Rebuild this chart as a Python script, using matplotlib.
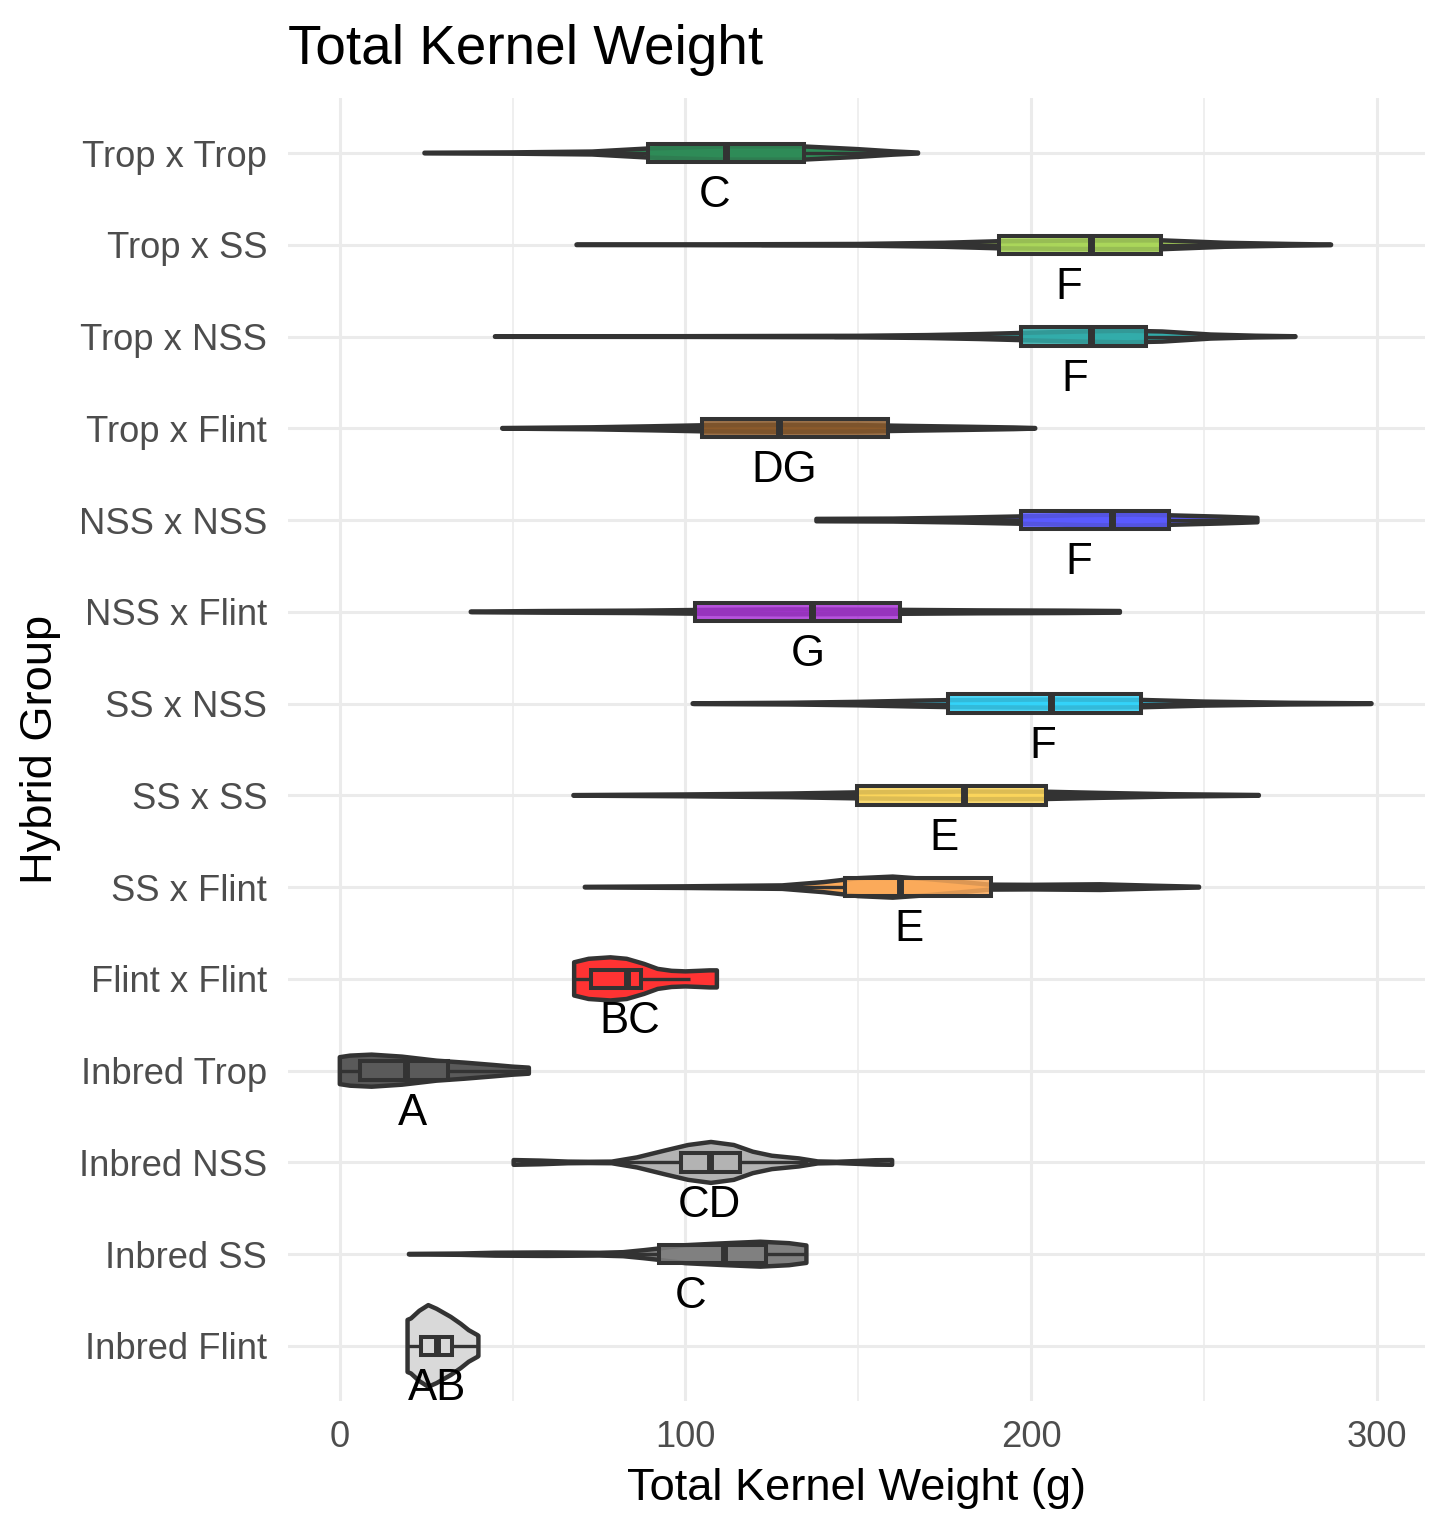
import matplotlib.pyplot as plt
import numpy as np
from matplotlib.patches import Rectangle
from matplotlib.colors import to_rgba

plt.rcParams['font.family'] = ['Liberation Sans', 'DejaVu Sans']

# groups listed top to bottom as in the chart
groups = ['Trop x Trop', 'Trop x SS', 'Trop x NSS', 'Trop x Flint',
          'NSS x NSS', 'NSS x Flint', 'SS x NSS', 'SS x SS', 'SS x Flint',
          'Flint x Flint', 'Inbred Trop', 'Inbred NSS', 'Inbred SS', 'Inbred Flint']
fills = ['#2E8B57', '#AAD65A', '#32ACAA', '#8B5A2B',
         '#5A5AFF', '#A935D6', '#33D3F9', '#FBD55B', '#FBAA5A',
         '#FF3333', '#5A5A5A', '#B3B3B3', '#808080', '#D9D9D9']
letters = ['C', 'F', 'F', 'DG', 'F', 'G', 'F', 'E', 'E', 'BC', 'A', 'CD', 'C', 'AB']
means = [108.3, 210.9, 212.6, 128.7, 213.8, 135.5, 203.4, 174.9, 164.6,
         83.9, 20.9, 107.0, 101.5, 28.2]

# boxplot stats (g)
q1 = [89.3, 190.8, 197.0, 104.9, 197.0, 102.7, 175.9, 149.5, 146.2, 72.6, 5.8, 98.6, 92.3, 23.5]
med = [111.7, 217.4, 217.4, 127.1, 223.3, 136.6, 205.8, 180.7, 162.1, 83.0, 19.2, 107.1, 111.3, 28.0]
q3 = [134.4, 237.6, 233.4, 158.5, 239.8, 162.2, 231.9, 204.2, 188.4, 87.2, 31.3, 115.7, 123.4, 32.5]
wlo = [24.5, 122.0, 143.0, 47.0, 137.9, 37.9, 102.1, 67.6, 84.0, 67.8, 0.0, 79.8, 46.0, 19.6]
whi = [167.3, 286.8, 276.5, 201.2, 265.5, 225.7, 298.5, 265.9, 248.6, 101.3, 54.7, 135.5, 135.0, 40.0]

# violin outlines: weight values and half widths (category units)
violin_x = [
    [24.5, 50, 73, 89, 110, 134, 150, 160, 167.3],
    [68.5, 100, 150, 175, 190, 215, 238, 256, 275, 286.8],
    [44.9, 100, 150, 170, 185, 200, 215, 228, 238, 252, 265, 276.5],
    [47, 73, 90, 105, 127, 150, 165, 180, 195, 201.2],
    [137.9, 160, 180, 197, 215, 230, 240, 255, 265.5],
    [37.9, 60, 85, 103, 130, 160, 185, 210, 225.7],
    [102.1, 130, 150, 165, 176, 205, 232, 250, 275, 298.5],
    [67.6, 100, 130, 150, 180, 204, 220, 240, 265.9],
    [70.9, 100, 128, 140, 150, 160, 170, 180, 188, 200, 220, 235, 248.6],
    [67.8, 72, 78.3, 83, 88, 92, 96, 100, 104, 107, 109.1],
    [0, 3, 9.2, 18, 28, 36, 44.5, 50, 54.7],
    [50.3, 58, 66, 72, 78.7, 86, 94.2, 100.8, 107.4, 114, 119.5, 125, 132.8, 138.3, 143.8, 150, 155, 159.8],
    [20, 35, 45, 60, 75, 82, 88, 92.3, 100, 110, 121.7, 130, 135],
    [19.6, 20.6, 23, 25.6, 28, 32.1, 35, 37.3, 39.9, 40.1],
]
violin_w = [
    [0.003, 0.007, 0.016, 0.049, 0.071, 0.072, 0.042, 0.018, 0.005],
    [0.003, 0.004, 0.009, 0.022, 0.038, 0.046, 0.048, 0.022, 0.009, 0.003],
    [0.003, 0.004, 0.008, 0.016, 0.027, 0.042, 0.055, 0.063, 0.055, 0.022, 0.009, 0.003],
    [0.003, 0.011, 0.022, 0.033, 0.038, 0.035, 0.026, 0.018, 0.009, 0.003],
    [0.013, 0.016, 0.027, 0.040, 0.055, 0.060, 0.052, 0.037, 0.024],
    [0.003, 0.009, 0.013, 0.020, 0.027, 0.022, 0.016, 0.013, 0.009],
    [0.003, 0.009, 0.019, 0.031, 0.038, 0.044, 0.040, 0.022, 0.009, 0.003],
    [0.003, 0.010, 0.020, 0.033, 0.042, 0.040, 0.027, 0.013, 0.004],
    [0.003, 0.009, 0.019, 0.055, 0.098, 0.115, 0.088, 0.055, 0.027, 0.025, 0.031, 0.016, 0.004],
    [0.181, 0.219, 0.235, 0.219, 0.164, 0.109, 0.088, 0.082, 0.088, 0.093, 0.093],
    [0.147, 0.164, 0.175, 0.153, 0.109, 0.088, 0.062, 0.044, 0.033],
    [0.026, 0.020, 0.009, 0.007, 0.009, 0.055, 0.131, 0.190, 0.223, 0.190, 0.117, 0.073, 0.044, 0.011, 0.007, 0.016, 0.024, 0.026],
    [0.003, 0.007, 0.016, 0.019, 0.015, 0.022, 0.044, 0.062, 0.098, 0.117, 0.136, 0.120, 0.095],
    [0.284, 0.300, 0.383, 0.445, 0.405, 0.317, 0.241, 0.172, 0.117, 0.110],
]

dark = '#333333'
lw = 2.9

fig = plt.figure(figsize=(14.5, 15.33), dpi=100)
ax = fig.add_axes([0.1986, 0.0861, 0.7842, 0.850])

n = len(groups)
ypos = np.arange(n, 0, -1)

for i, g in enumerate(groups):
    y = ypos[i]
    xs = np.array(violin_x[i])
    hw = np.array(violin_w[i])
    ax.fill(np.r_[xs, xs[::-1]], np.r_[y + hw, (y - hw)[::-1]],
            facecolor=fills[i], edgecolor=dark, lw=3.2, joinstyle='round', zorder=2)
    # whiskers
    ax.plot([wlo[i], q1[i]], [y, y], color=dark, lw=2.4, solid_capstyle='butt', zorder=3)
    ax.plot([q3[i], whi[i]], [y, y], color=dark, lw=2.4, solid_capstyle='butt', zorder=3)
    # box
    ax.add_patch(Rectangle((q1[i], y - 0.1), q3[i] - q1[i], 0.2,
                           facecolor=to_rgba(fills[i], 0.85), edgecolor=dark, lw=lw, zorder=4))
    ax.plot([med[i], med[i]], [y - 0.1, y + 0.1], color=dark, lw=5,
            solid_capstyle='butt', zorder=5)
    ax.text(means[i], y - 0.59, letters[i], ha='center', va='baseline',
            fontsize=31.5, color='black', zorder=6)

ax.set_xlim(-15, 314)
ax.set_ylim(0.4, n + 0.6)
ax.set_xticks([0, 100, 200, 300])
ax.set_xticks([50, 150, 250], minor=True)
ax.set_yticks(ypos)
ax.set_yticklabels(groups)
ax.grid(which='major', color='#EBEBEB', lw=2.2)
ax.grid(which='minor', axis='x', color='#EBEBEB', lw=1.1)
ax.set_axisbelow(True)
for s in ax.spines.values():
    s.set_visible(False)
ax.tick_params(which='both', length=0, labelsize=26.2, labelcolor='#4D4D4D')
ax.tick_params(axis='y', pad=15)
ax.tick_params(axis='x', pad=14)

ax.set_xlabel('Total Kernel Weight (g)', fontsize=32.6, labelpad=9)
ax.set_ylabel('Hybrid Group', fontsize=32.6, labelpad=13)
fig.text(288 / 1450, 1 - 64 / 1533, 'Total Kernel Weight', fontsize=39.5,
         ha='left', va='baseline')

fig.savefig('out.png', dpi=100)
